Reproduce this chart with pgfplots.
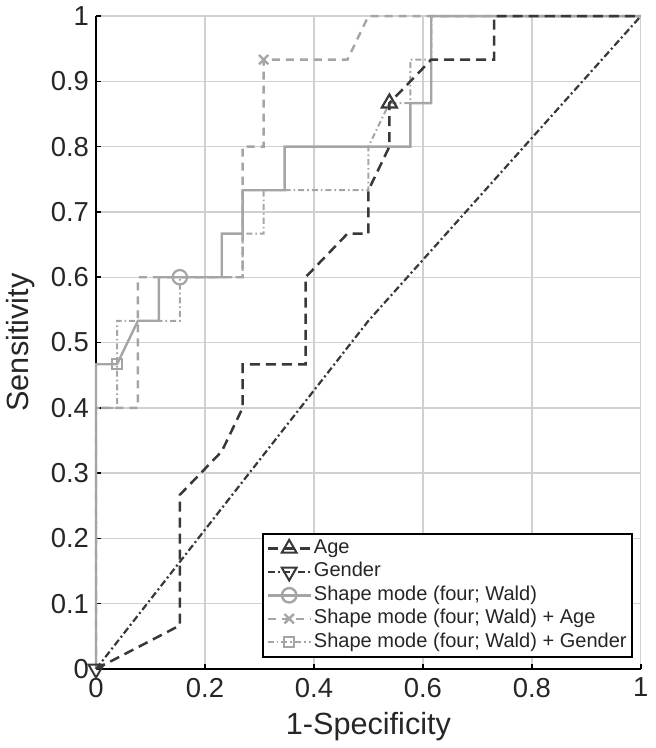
\documentclass[border=0pt]{standalone}
\usepackage{fontspec}
\setmainfont{Liberation Sans}
\usepackage{pgfplots}
\pgfplotsset{compat=1.18}
\definecolor{dk}{HTML}{383838}
\definecolor{lt}{HTML}{A5A5A5}
\definecolor{gridc}{HTML}{D0D0D0}
\begin{document}
\begin{tikzpicture}
\begin{axis}[
  scale only axis,
  width=272bp, height=326bp,
  xmin=0, xmax=1, ymin=0, ymax=1,
  axis x line*=bottom, axis y line*=left,
  axis line style={black, line width=1bp},
  tick align=inside,
  major tick length=2.5bp,
  tick style={black, line width=0.8bp},
  xtick={0,0.2,0.4,0.6,0.8,1},
  ytick={0,0.1,0.2,0.3,0.4,0.5,0.6,0.7,0.8,0.9,1},
  xticklabels={0,0.2,0.4,0.6,0.8,1},
  yticklabels={0,0.1,0.2,0.3,0.4,0.5,0.6,0.7,0.8,0.9,1},
  /pgf/number format/assume math mode=true,
  ticklabel style={font=\fontsize{13.7bp}{16bp}\selectfont, text=black!85},
  xticklabel style={yshift=-1bp},
  grid=major,
  major grid style={gridc, line width=0.7bp},
  xlabel={1-Specificity}, ylabel={Sensitivity},
  label style={font=\fontsize{15.3bp}{18bp}\selectfont, text=black!85},
  xlabel style={at={(axis description cs:0.5,0)}, anchor=center, yshift=-29bp},
  ylabel style={at={(axis description cs:0,0.5)}, anchor=center, rotate=0, yshift=37.5bp},
  legend image code/.code={\draw[mark repeat=2,mark phase=2,#1] plot coordinates {(0bp,0bp) (10.75bp,0bp) (21.5bp,0bp)};},
  legend style={at={(0.985,0.017)}, anchor=south east, draw=black, line width=1bp, fill=white,
    font=\fontsize{10bp}{11bp}\selectfont, text=black!85, inner sep=1.5bp, row sep=0bp,
    nodes={inner sep=1bp, text height=7.4bp, text depth=2.3bp, anchor=west},
    cells={anchor=west}},
  legend cell align=left,
  clip=false,
]
% legend images
\addlegendimage{dk, line width=1.25bp, dash pattern=on 5bp off 3bp, mark=triangle, mark size=4.3bp, mark options={solid, line width=1bp}}
\addlegendimage{dk, line width=1.1bp, dash pattern=on 3.5bp off 1.5bp on 1bp off 1.5bp, mark=triangle, mark size=4.3bp, mark options={solid, rotate=180, line width=1bp}}
\addlegendimage{lt, line width=1.2bp, solid, mark=o, mark size=3.6bp, mark options={solid}}
\addlegendimage{lt, line width=1.2bp, dash pattern=on 4bp off 3bp, mark=x, mark size=3.3bp, mark options={solid}}
\addlegendimage{lt, line width=1bp, dash pattern=on 3bp off 1.5bp on 0.8bp off 1.5bp, mark=square, mark size=2.6bp, mark options={solid}}
\legend{Age, Gender, Shape mode (four; Wald), Shape mode (four; Wald) + Age, Shape mode (four; Wald) + Gender}

% Shape mode (four; Wald) + Age
\addplot[forget plot, lt, line width=1.2bp, dash pattern=on 4bp off 3bp] coordinates {
(0,0)(0,0.4)(0.0769,0.4)(0.0769,0.6)(0.2692,0.6)(0.2692,0.8)(0.3077,0.8)(0.3077,0.9333)(0.4615,0.9333)(0.5,1)(1,1)};
% Shape mode (four; Wald) + Gender
\addplot[forget plot, lt, line width=1bp, dash pattern=on 3bp off 1.5bp on 0.8bp off 1.5bp] coordinates {
(0,0)(0,0.4)(0.0385,0.4)(0.0385,0.5333)(0.1538,0.5333)(0.1538,0.6)(0.2692,0.6)(0.2692,0.6667)(0.3077,0.6667)(0.3077,0.7333)(0.5,0.7333)(0.5,0.8)(0.5385,0.8667)(0.5769,0.8667)(0.5769,0.9333)(0.6154,0.9333)(0.6154,1)(1,1)};
% Shape mode (four; Wald)
\addplot[forget plot, lt, line width=1.2bp, solid] coordinates {
(0,0)(0,0.4667)(0.0385,0.4667)(0.0769,0.5333)(0.1154,0.5333)(0.1154,0.6)(0.2308,0.6)(0.2308,0.6667)(0.2692,0.6667)(0.2692,0.7333)(0.3462,0.7333)(0.3462,0.8)(0.5769,0.8)(0.5769,0.8667)(0.6154,0.8667)(0.6154,1)(1,1)};
% Gender
\addplot[forget plot, dk, line width=1.1bp, dash pattern=on 3.5bp off 1.5bp on 1bp off 1.5bp] coordinates {
(0,0)(0.5,0.5333)(1,1)};
% Age
\addplot[forget plot, dk, line width=1.25bp, dash pattern=on 5bp off 3bp] coordinates {
(0,0)(0.1538,0.0667)(0.1538,0.2667)(0.2308,0.3333)(0.2692,0.4)(0.2692,0.4667)(0.3846,0.4667)(0.3846,0.6)(0.4615,0.6667)(0.5,0.6667)(0.5,0.7333)(0.5385,0.8)(0.5385,0.8667)(0.6154,0.9333)(0.7308,0.9333)(0.7308,1)(1,1)};

% operating-point markers
\addplot[forget plot, only marks, lt, mark=x, mark size=3.3bp, mark options={line width=1.1bp}] coordinates {(0.3077,0.9333)};
\addplot[forget plot, only marks, lt, mark=square, mark size=2.6bp, mark options={line width=1bp}] coordinates {(0.0385,0.4667)};
\addplot[forget plot, only marks, lt, mark=o, mark size=3.6bp, mark options={line width=1.1bp}] coordinates {(0.1538,0.6)};
\addplot[forget plot, only marks, dk, mark=triangle, mark size=4.3bp, mark options={rotate=180, line width=1bp}] coordinates {(0,0)};
\addplot[forget plot, only marks, dk, mark=triangle, mark size=4.3bp, mark options={line width=1.1bp}] coordinates {(0.5385,0.8667)};
\end{axis}
\end{tikzpicture}
\end{document}
